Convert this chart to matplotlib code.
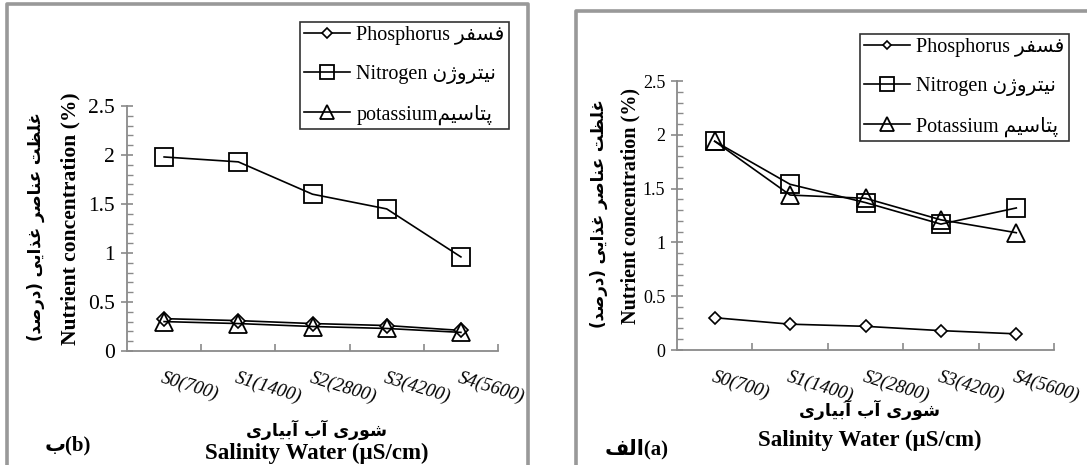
import matplotlib
matplotlib.use("Agg")
import matplotlib.pyplot as plt
from matplotlib.lines import Line2D
from matplotlib.ticker import MultipleLocator, FixedLocator, NullFormatter

# ---------------- data ----------------
categories = ["S0(700)", "S1(1400)", "S2(2800)", "S3(4200)", "S4(5600)"]

# panel (b)  - left
b_phosphorus = [0.33, 0.31, 0.28, 0.26, 0.21]
b_nitrogen = [1.98, 1.93, 1.60, 1.45, 0.96]
b_potassium = [0.30, 0.28, 0.25, 0.23, 0.19]

# panel (a)  - right
a_phosphorus = [0.30, 0.24, 0.22, 0.18, 0.15]
a_nitrogen = [1.94, 1.54, 1.37, 1.17, 1.32]
a_potassium = [1.94, 1.44, 1.41, 1.21, 1.09]

# ---------------- Persian shaping (presentation forms, visual order) ----------------
FORMS = {
    'ا': ('\uFE8D', '\uFE8E', None, None),
    'آ': ('\uFE81', '\uFE82', None, None),
    'ب': ('\uFE8F', '\uFE90', '\uFE91', '\uFE92'),
    'پ': ('\uFB56', '\uFB57', '\uFB58', '\uFB59'),
    'ت': ('\uFE95', '\uFE96', '\uFE97', '\uFE98'),
    'د': ('\uFEA9', '\uFEAA', None, None),
    'ذ': ('\uFEAB', '\uFEAC', None, None),
    'ر': ('\uFEAD', '\uFEAE', None, None),
    'ژ': ('\uFB8A', '\uFB8B', None, None),
    'س': ('\uFEB1', '\uFEB2', '\uFEB3', '\uFEB4'),
    'ش': ('\uFEB5', '\uFEB6', '\uFEB7', '\uFEB8'),
    'ص': ('\uFEB9', '\uFEBA', '\uFEBB', '\uFEBC'),
    'ظ': ('\uFEC5', '\uFEC6', '\uFEC7', '\uFEC8'),
    'ع': ('\uFEC9', '\uFECA', '\uFECB', '\uFECC'),
    'غ': ('\uFECD', '\uFECE', '\uFECF', '\uFED0'),
    'ف': ('\uFED1', '\uFED2', '\uFED3', '\uFED4'),
    'ل': ('\uFEDD', '\uFEDE', '\uFEDF', '\uFEE0'),
    'م': ('\uFEE1', '\uFEE2', '\uFEE3', '\uFEE4'),
    'ن': ('\uFEE5', '\uFEE6', '\uFEE7', '\uFEE8'),
    'و': ('\uFEED', '\uFEEE', None, None),
    'ی': ('\uFBFC', '\uFBFD', '\uFBFE', '\uFBFF'),
}
MIRROR = {'(': ')', ')': '('}


def fa(s):
    out = []
    n = len(s)
    for i, c in enumerate(s):
        f = FORMS.get(c)
        if f is None:
            out.append(MIRROR.get(c, c))
            continue
        prev = s[i - 1] if i > 0 else ''
        nxt = s[i + 1] if i < n - 1 else ''
        jp = prev in FORMS and FORMS[prev][2] is not None
        jn = f[2] is not None and nxt in FORMS
        if jp and jn:
            g = f[3]
        elif jp:
            g = f[1]
        elif jn:
            g = f[2]
        else:
            g = f[0]
        out.append(g)
    return ''.join(reversed(out))


SERIF = ['Liberation Serif', 'DejaVu Sans']
FAF = ['DejaVu Sans']

plt.rcParams['font.family'] = SERIF

W, H = 1087, 465
fig = plt.figure(figsize=(W / 100, H / 100), dpi=100)
fig.patch.set_facecolor('white')

GRAY = '#8a8a8a'


def fx(px):
    return px / W


def fy(py):
    return 1 - py / H


# panel borders
for xs, ys in [([7, 7, 528, 528], [470, 4, 4, 470]),
               ([576, 576, 1095], [470, 11, 11])]:
    fig.add_artist(Line2D([fx(x) for x in xs], [fy(y) for y in ys],
                          color='#999999', lw=2.6, transform=fig.transFigure))


def make_panel(rect_px, phos, nitro, pota, leg_names, leg_px, ms_d,
               tick_fs, ylab_fs, ylab_x, ylab_fa_x, xl_fa_y, xl_en_y,
               tag, tag_px):
    x0, x1, ytop, ybot = rect_px
    ax = fig.add_axes([fx(x0), fy(ybot), (x1 - x0) / W, (ybot - ytop) / H])
    xs = list(range(len(categories)))
    l1, = ax.plot(xs, phos, color='black', lw=1.2, marker='D', ms=ms_d,
                  mfc='white', mec='black', mew=1.2, label=leg_names[0], zorder=3)
    l2, = ax.plot(xs, nitro, color='black', lw=1.2, marker='s', ms=12.5,
                  mfc='none', mec='black', mew=1.3, label=leg_names[1], zorder=3)
    l3, = ax.plot(xs, pota, color='black', lw=1.2, marker='^', ms=12.5,
                  mfc='none', mec='black', mew=1.3, label=leg_names[2], zorder=3)
    ax.set_xlim(-0.5, len(categories) - 0.5)
    ax.set_ylim(0, 2.5)
    for s in ['top', 'right']:
        ax.spines[s].set_visible(False)
    for s in ['left', 'bottom']:
        ax.spines[s].set_color(GRAY)
        ax.spines[s].set_linewidth(1.3)
    ax.yaxis.set_major_locator(MultipleLocator(0.5))
    ax.yaxis.set_minor_locator(MultipleLocator(0.1))
    ax.yaxis.set_major_formatter(plt.FuncFormatter(lambda v, p: ('%g' % v)))
    ax.tick_params(axis='y', which='major', direction='inout', length=9,
                   width=1.2, color=GRAY, labelsize=tick_fs, pad=4)
    ax.tick_params(axis='y', which='minor', direction='in', length=4,
                   width=1.0, color=GRAY)
    # category boundaries as major ticks (inside), labels on minor ticks
    ax.xaxis.set_major_locator(FixedLocator([i + 0.5 for i in xs]))
    ax.xaxis.set_major_formatter(NullFormatter())
    ax.tick_params(axis='x', which='major', direction='in', length=5,
                   width=1.2, color=GRAY)
    ax.set_xticks(xs, categories, minor=True)
    ax.tick_params(axis='x', which='minor', length=0, pad=13, labelsize=13.5)
    for t in ax.get_xticklabels(minor=True):
        t.set_rotation(-17)
        t.set_rotation_mode('anchor')
        t.set_ha('left')
        t.set_va('top')
        t.set_fontstyle('italic')
    ax.set_facecolor('none')

    # legend
    lx0, ly0 = leg_px
    leg = fig.legend(handles=[l1, l2, l3], loc='upper left',
                     bbox_to_anchor=(fx(lx0), fy(ly0)), frameon=True,
                     fancybox=False, edgecolor='black', fontsize=14.5,
                     handlelength=2.3, handletextpad=0.3, labelspacing=1.0,
                     borderpad=0.2, borderaxespad=0, markerscale=0.75)
    leg.get_frame().set_linewidth(1.2)
    for t in leg.get_texts():
        t.set_family(SERIF)

    # y labels
    yc = (ytop + ybot) / 2
    fig.text(fx(ylab_x), fy(yc - 10), 'Nutrient concentration (%)', rotation=90,
             ha='center', va='center', fontsize=ylab_fs, fontweight='bold')
    fig.text(fx(ylab_fa_x), fy(yc - 2), fa('غلظت عناصر غذایی (درصد)'), rotation=90,
             ha='center', va='center', fontsize=12, fontweight='bold',
             family=FAF)
    # x labels
    xc = (x0 + x1) / 2 + 4
    fig.text(fx(xc), fy(xl_fa_y), fa('شوری آب آبیاری'), ha='center',
             va='center', fontsize=12.5, fontweight='bold', family=FAF)
    fig.text(fx(xc), fy(xl_en_y), 'Salinity Water (\u00b5S/cm)', ha='center',
             va='center', fontsize=16.5, fontweight='bold')
    fig.text(fx(tag_px[0]), fy(tag_px[1]), tag, ha='center', va='center',
             fontsize=15, fontweight='bold')
    return ax


make_panel((127, 498, 106, 351), b_phosphorus, b_nitrogen, b_potassium,
           ['Phosphorus ' + fa('فسفر'), 'Nitrogen ' + fa('نیتروژن'),
            'potassium' + fa('پتاسیم')],
           (300, 22), 7, 15.5, 15.5, 70, 36, 430, 453, fa('ب') + '(b)', (68, 445))

make_panel((677, 1054, 81, 350), a_phosphorus, a_nitrogen, a_potassium,
           ['Phosphorus ' + fa('فسفر'), 'Nitrogen ' + fa('نیتروژن'),
            'Potassium ' + fa('پتاسیم')],
           (860, 34), 6, 13, 14.5, 630, 599, 410, 440, fa('الف') + '(a)', (637, 449))

fig.savefig('out.png', dpi=100, facecolor='white')
